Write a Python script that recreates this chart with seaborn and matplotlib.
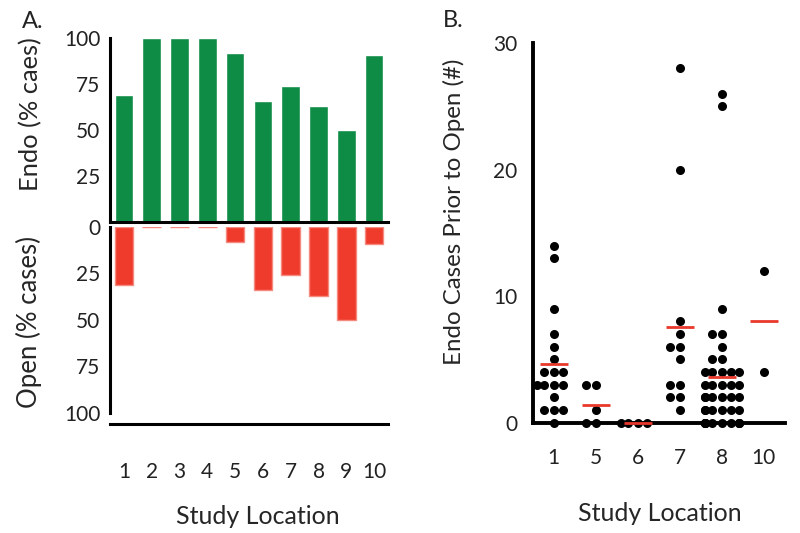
import matplotlib.pyplot as plt
import seaborn as sns
import pandas as pd

# panel A: share of cases by study location
locations = ["1", "2", "3", "4", "5", "6", "7", "8", "9", "10"]
endo_pct = [69, 100, 100, 100, 92, 66, 74, 63, 50, 91]
open_pct = [31, 0, 0, 0, 8, 34, 26, 37, 50, 9]

# panel B: endo cases done before the open case, per location
b_locations = ["1", "5", "6", "7", "8", "10"]
loc1 = [14, 13, 9, 7, 6, 5, 4, 4, 4, 3, 3, 3, 3, 2, 1, 1, 1, 0]
loc5 = [3, 3, 1, 0, 0]
loc6 = [0, 0, 0, 0]
loc7 = [28, 20, 8, 7, 6, 6, 5, 3, 3, 2, 2, 1]
loc8 = [26, 25, 9, 7, 7, 6, 5, 5, 4, 4, 4, 4, 4, 3, 3, 3, 3, 3,
        2, 2, 2, 2, 2, 2, 1, 1, 1, 1, 1, 1, 0, 0, 0, 0, 0, 0, 0, 0, 0, 0]
loc10 = [12, 4]

green = "#0e8c45"
red = "#ee3b2b"
mean_red = "#e8392b"

sns.set_style("white")
plt.rcParams["font.family"] = ["Lato", "DejaVu Sans"]
plt.rcParams["text.color"] = "#222222"
plt.rcParams["xtick.color"] = "#222222"
plt.rcParams["ytick.color"] = "#222222"

df_a = pd.DataFrame({"loc": locations, "endo": endo_pct, "open": open_pct})
groups = [loc1, loc5, loc6, loc7, loc8, loc10]
df_b = pd.DataFrame({
    "loc": [l for l, g in zip(b_locations, groups) for _ in g],
    "cases": [v for g in groups for v in g],
})

fig = plt.figure(figsize=(8, 5.33), dpi=100)
ax_endo = fig.add_axes([0.1375, 0.5835, 0.3475, 0.345])
ax_open = fig.add_axes([0.1375, 0.2045, 0.3475, 0.3696])
ax_b = fig.add_axes([0.666, 0.207, 0.315, 0.712])

# --- A, top half
sns.barplot(data=df_a, x="loc", y="endo", order=locations, color=green,
            saturation=1, width=0.67, ax=ax_endo)
ax_endo.set_ylim(0, 100)
ax_endo.set_xlim(-0.5, 9.5)
ax_endo.set_yticks([25, 50, 75, 100])
ax_endo.set_xticks([])
ax_endo.set_xlabel("")
ax_endo.set_ylabel("Endo (% caes)", fontsize=18.3)
ax_endo.yaxis.set_label_coords(-0.245, 0.584)

# --- A, bottom half (bars hang down)
sns.barplot(data=df_a, x="loc", y="open", order=locations, color=red,
            saturation=1, width=0.67, edgecolor="#f58a80", linewidth=1.0,
            ax=ax_open)
ax_open.set_ylim(106, 0)
ax_open.set_xlim(-0.5, 9.5)
ax_open.set_yticks([0, 25, 50, 75, 100])
ax_open.spines["left"].set_bounds(0, 100)
ax_open.set_ylabel("Open (% cases)", fontsize=18.5)
ax_open.yaxis.set_label_coords(-0.245, 0.518)
ax_open.set_xlabel("Study Location", fontsize=18)
ax_open.xaxis.set_label_coords(0.53, -0.41)
ax_open.tick_params(axis="x", pad=27)

for ax in (ax_endo, ax_open):
    sns.despine(ax=ax)
    ax.spines["left"].set_linewidth(2.2)
    ax.spines["bottom"].set_linewidth(2.2)
    ax.spines["left"].set_color("black")
    ax.spines["bottom"].set_color("black")
    ax.tick_params(length=0, labelsize=15)
    ax.tick_params(axis="y", pad=7)

# --- B
sns.swarmplot(data=df_b, x="loc", y="cases", order=b_locations, color="black",
              size=6.5, ax=ax_b, warn_thresh=1)
for coll in ax_b.collections:
    coll.set_clip_on(False)
sns.pointplot(data=df_b, x="loc", y="cases", order=b_locations, estimator="mean",
              errorbar=None, color=mean_red, marker="_", markersize=20,
              markeredgewidth=2, linestyle="none", ax=ax_b)
for line in ax_b.lines:
    line.set_clip_on(False)
    line.set_zorder(5)
ax_b.set_ylim(0, 30)
ax_b.set_xlim(-0.5, 5.5)
ax_b.set_yticks([0, 10, 20, 30])
sns.despine(ax=ax_b)
ax_b.spines["left"].set_linewidth(2.8)
ax_b.spines["bottom"].set_linewidth(2.8)
ax_b.spines["left"].set_color("black")
ax_b.spines["bottom"].set_color("black")
ax_b.tick_params(length=0, labelsize=15)
ax_b.tick_params(axis="x", pad=18)
ax_b.tick_params(axis="y", pad=11)
ax_b.set_ylabel("Endo Cases Prior to Open (#)", fontsize=17.3)
ax_b.yaxis.set_label_coords(-0.27, 0.555)
ax_b.set_xlabel("Study Location", fontsize=18)
ax_b.xaxis.set_label_coords(0.504, -0.209)

fig.text(0.041, 0.959, "A.", fontsize=17, ha="center", va="center")
fig.text(0.566, 0.961, "B.", fontsize=17, ha="center", va="center")

fig.savefig("out.png", dpi=100)
